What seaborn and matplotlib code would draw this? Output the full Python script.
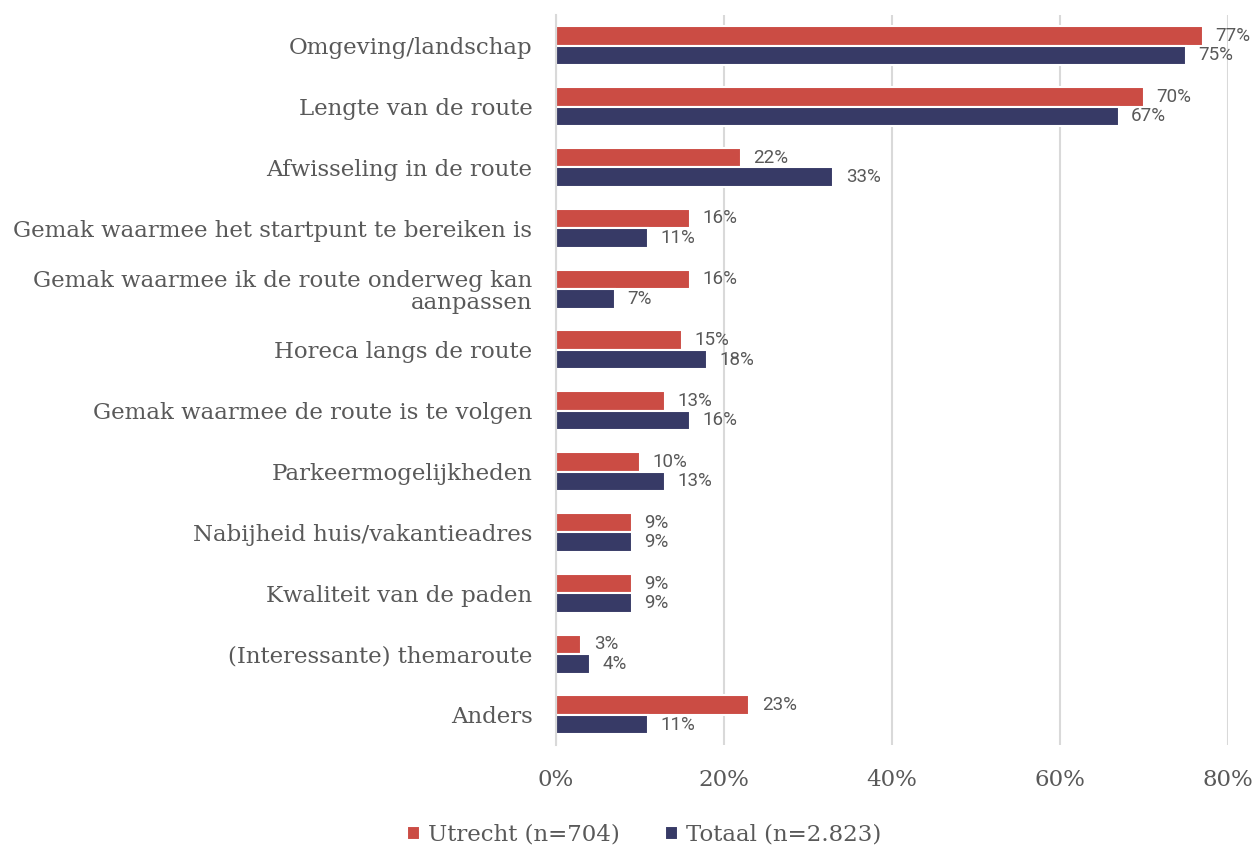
import pandas as pd
import numpy as np
import matplotlib.pyplot as plt
import seaborn as sns
from matplotlib.ticker import PercentFormatter

# -------------------------------
# Data
# -------------------------------
categories = ['Omgeving/landschap', 'Lengte van de route', 'Afwisseling in de route',
              'Gemak waarmee het startpunt te bereiken is',
              'Gemak waarmee ik de route onderweg kan\naanpassen',
              'Horeca langs de route', 'Gemak waarmee de route is te volgen',
              'Parkeermogelijkheden', 'Nabijheid huis/vakantieadres',
              'Kwaliteit van de paden', '(Interessante) themaroute', 'Anders']
utrecht = [77, 70, 22, 16, 16, 15, 13, 10, 9, 9, 3, 23]
totaal = [75, 67, 33, 11, 7, 18, 16, 13, 9, 9, 4, 11]
series = ['Utrecht (n=704)', 'Totaal (n=2.823)']
colors = ['#CB4C44', '#373A66']

df = pd.DataFrame({
    'categorie': categories * 2,
    'waarde': [v / 100 for v in utrecht + totaal],
    'groep': [series[0]] * len(categories) + [series[1]] * len(categories),
})

# -------------------------------
# Plot
# -------------------------------
sns.set_style('white')
text_col = '#595959'
serif = ['DejaVu Serif']

fig = plt.figure(figsize=(12.58, 8.47), dpi=100)
ax = fig.add_axes([0.442, 0.12, 0.534, 0.862])

sns.barplot(data=df, y='categorie', x='waarde', hue='groep', palette=colors,
            orient='h', width=0.64, ax=ax, saturation=1, linewidth=1.5, edgecolor='white')

ax.set_xlim(0, 0.8)
ax.xaxis.set_major_formatter(PercentFormatter(1.0, decimals=0))
ax.set_xticks([0, 0.2, 0.4, 0.6, 0.8])
ax.grid(axis='x', color='#d9d9d9', linewidth=1.5)
ax.set_axisbelow(True)
for s in ['top', 'right', 'bottom']:
    ax.spines[s].set_visible(False)
ax.spines['left'].set_color('#d9d9d9')
ax.spines['left'].set_linewidth(1.5)
ax.set_xlabel('')
ax.set_ylabel('')
ax.tick_params(axis='both', length=0)
ax.tick_params(axis='x', pad=17)
ax.tick_params(axis='y', pad=17)
for lbl in ax.get_yticklabels() + ax.get_xticklabels():
    lbl.set_family(serif)
    lbl.set_fontsize(16.5)
    lbl.set_color(text_col)
for lbl in ax.get_yticklabels():
    lbl.set_linespacing(1.05)

# value labels
for cont in ax.containers:
    ax.bar_label(cont, labels=[f'{v * 100:.0f}%' for v in cont.datavalues],
                 padding=9, fontsize=13.5, family='Roboto', color=text_col)

leg = ax.legend(loc='lower center', bbox_to_anchor=(0.131, -0.166), ncol=2, frameon=False,
                handlelength=0.55, handleheight=0.55, handletextpad=0.35, columnspacing=2.0,
                prop={'family': serif, 'size': 16.5})
for t in leg.get_texts():
    t.set_color(text_col)

fig.savefig('out.png', dpi=100)
